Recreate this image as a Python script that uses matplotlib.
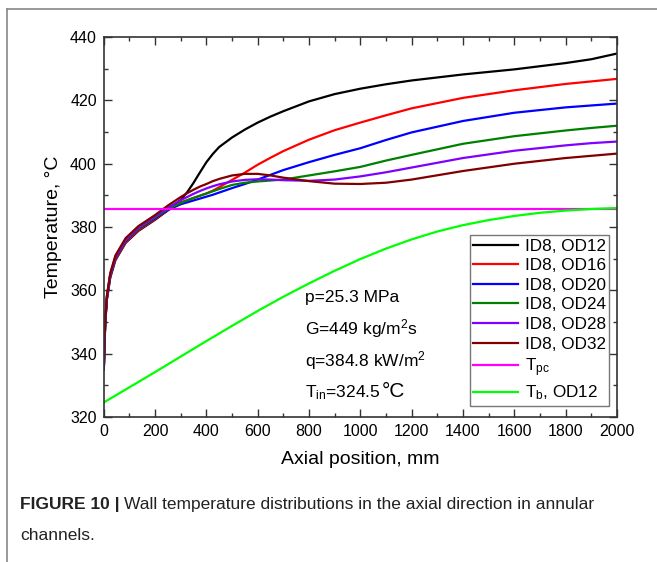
import matplotlib
matplotlib.use("Agg")
import matplotlib.pyplot as plt
from matplotlib.ticker import MultipleLocator

plt.rcParams['font.family'] = ['Liberation Sans', 'DejaVu Sans']
plt.rcParams['mathtext.fontset'] = 'custom'
plt.rcParams['mathtext.rm'] = 'Liberation Sans'
plt.rcParams['mathtext.it'] = 'Liberation Sans'

# Axial positions (mm) where the wall curves were read
x_wall = [0, 3, 6, 12, 25, 45, 85, 135, 200, 250, 300, 325, 350, 375, 400, 425, 450, 500, 550,
          600, 650, 700, 800, 900, 1000, 1100, 1200, 1400, 1600, 1800, 1900, 2000]

t_od12 = [335, 343.5, 350, 357, 364, 369.5, 375, 378.8, 382.3, 385.3, 388.6, 391, 394, 397.3,
          400.5, 403.1, 405.3, 408.3, 410.8, 413, 414.9, 416.6, 419.7, 422, 423.7, 425.1,
          426.3, 428.2, 429.8, 431.8, 433, 434.8]
t_od16 = [335, 343.7, 350.2, 357.2, 364.2, 369.7, 375.2, 379, 382.5, 385.3, 387.8, 388.5, 389.2,
          389.9, 390.6, 391.5, 392.6, 394.9, 397.2, 399.7, 401.9, 404, 407.6, 410.6, 413,
          415.3, 417.5, 420.8, 423.2, 425.2, 426, 426.8]
t_od20 = [335, 344, 350.5, 357.6, 364.6, 370.1, 375.6, 379.4, 382.8, 385.4, 387.2, 387.8, 388.4,
          389, 389.6, 390.2, 390.9, 392.3, 393.6, 395, 396.5, 398, 400.5, 402.8, 404.9,
          407.5, 409.9, 413.5, 416.1, 417.8, 418.4, 419]
t_od24 = [335, 344.2, 350.7, 357.8, 364.8, 370.3, 375.8, 379.6, 383.1, 385.7, 387.6, 388.4, 389.2,
          389.9, 390.6, 391.3, 392, 393.3, 394, 394.4, 394.7, 395, 396.3, 397.6, 399,
          401, 402.8, 406.3, 408.7, 410.5, 411.3, 412]
t_od28 = [335, 344.4, 350.9, 358, 365, 370.5, 376, 379.9, 383.4, 386.1, 388.5, 389.5, 390.5,
          391.4, 392.2, 392.9, 393.5, 394.4, 394.9, 395.1, 395, 394.8, 394.6, 395, 396,
          397.3, 398.8, 401.8, 404.1, 405.8, 406.5, 407]
t_od32 = [335, 344.7, 351.2, 358.3, 365.4, 371, 376.5, 380.3, 383.8, 386.8, 389.5, 390.7, 391.8,
          392.8, 393.6, 394.5, 395.2, 396.3, 396.8, 396.8, 396.3, 395.6, 394.5, 393.7,
          393.6, 394, 395, 397.7, 400, 401.8, 402.5, 403.2]

wall_series = [t_od12, t_od16, t_od20, t_od24, t_od28, t_od32]
wall_labels = ['ID8, OD12', 'ID8, OD16', 'ID8, OD20', 'ID8, OD24', 'ID8, OD28', 'ID8, OD32']
wall_colors = ['#000000', '#ff0000', '#0000ff', '#008000', '#8000ff', '#800000']

# Pseudocritical temperature
t_pc = 385.8

# Bulk temperature, OD12
x_bulk = [0, 100, 200, 300, 400, 500, 600, 700, 800, 900, 1000, 1100, 1200,
          1300, 1400, 1500, 1600, 1700, 1800, 1900, 2000]
t_bulk = [324.6, 329.4, 334.2, 339.1, 344, 348.8, 353.5, 358, 362.2, 366.2, 369.9, 373.2,
          376.1, 378.6, 380.6, 382.2, 383.5, 384.5, 385.2, 385.7, 386]

fig = plt.figure(figsize=(6.57, 5.62), dpi=100)
ax = fig.add_axes([0.158, 0.258, 0.781, 0.676])

for t, lab, col in zip(wall_series, wall_labels, wall_colors):
    ax.plot(x_wall, t, color=col, lw=1.6, label=lab)
ax.axhline(t_pc, color='#ff00ff', lw=1.6, label=r'T$_{\mathrm{pc}}$')
ax.plot(x_bulk, t_bulk, color='#00ff00', lw=1.6, label=r'T$_{\mathrm{b}}$, OD12')

ax.set_xlim(0, 2000)
ax.set_ylim(320, 440)
ax.xaxis.set_major_locator(MultipleLocator(200))
ax.xaxis.set_minor_locator(MultipleLocator(100))
ax.yaxis.set_major_locator(MultipleLocator(20))
ax.yaxis.set_minor_locator(MultipleLocator(10))
ax.tick_params(which='both', direction='in', top=True, right=True, labelsize=11.5,
               width=1, color='#333333')
ax.tick_params(which='major', length=6, pad=5)
ax.tick_params(which='minor', length=3)
for s in ax.spines.values():
    s.set_linewidth(1.2)
    s.set_color('#333333')

ax.set_xlabel('Axial position, mm', fontsize=14, labelpad=9)
ax.set_ylabel('Temperature, \u00b0C', fontsize=14, labelpad=6)

leg = ax.legend(loc='lower right', bbox_to_anchor=(0.985, 0.03), fontsize=12.3,
                frameon=True, fancybox=False, edgecolor='#777777', framealpha=1,
                handlelength=2.6, handletextpad=0.4, labelspacing=0.27,
                borderpad=0.2, borderaxespad=0)
leg.get_frame().set_linewidth(1.0)

ax.text(784, 357.9, 'p=25.3 MPa', fontsize=12.5, va='center')
ax.text(784, 347.8, r'G=449 kg/m$^2$s', fontsize=12.5, va='center')
ax.text(784, 337.9, r'q=384.8 kW/m$^2$', fontsize=12.5, va='center')
tin = ax.text(784, 327.8, r'T$_{\mathrm{in}}$=324.5', fontsize=12.5, va='center')

# page frame
fig.add_artist(plt.Line2D([7 / 657, 7 / 657], [0, 1 - 9 / 562], color='#888888', lw=1.2))
fig.add_artist(plt.Line2D([7 / 657, 1], [1 - 9 / 562, 1 - 9 / 562], color='#888888', lw=1.2))

# caption
cap_y = 1 - 505 / 562
bold = fig.text(20 / 657, cap_y, 'FIGURE 10 |', fontsize=12.5, fontweight='bold',
                va='center', color='#222222')
fig.text(20 / 657, 1 - 535 / 562, 'channels.', fontsize=12.5, va='center', color='#222222')

fig.canvas.draw()
r = fig.canvas.get_renderer()
bb = bold.get_window_extent(r)
fig.text((bb.x1 + 4) / 657, cap_y,
         'Wall temperature distributions in the axial direction in annular',
         fontsize=12.5, va='center', color='#222222')
tb = tin.get_window_extent(r)
fig.text((tb.x1 + 1) / 657, tb.y0 / 562 + 0.001, '\u00b0C', fontsize=15, va='bottom')

fig.savefig('out.png', dpi=100)
